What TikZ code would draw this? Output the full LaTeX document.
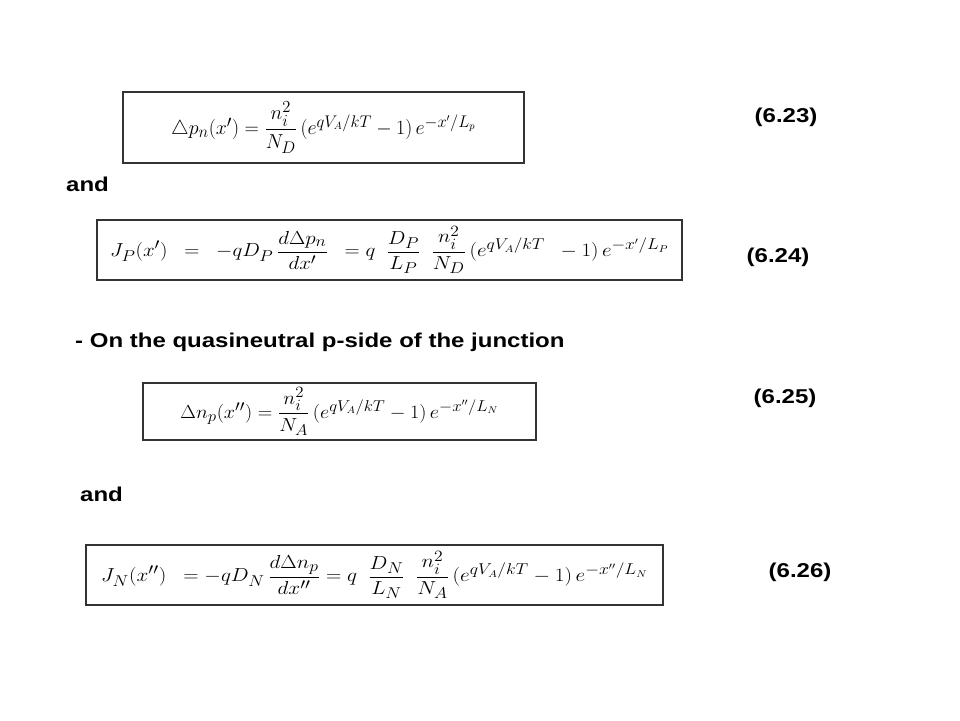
\documentclass[tikz,border=0pt]{standalone}
\usepackage{amsmath}
\usepackage{fontspec}
\setmainfont{Liberation Sans}
\usetikzlibrary{positioning}
\newcommand\widetext[1]{\scalebox{1.2}[1]{#1}}
\newcommand\eqfit[3]{\scalebox{#1}[#2]{$#3$}}
\newcommand\gap{\hspace{9pt}}
\tikzset{
  eqbox/.style={
    draw=black!80, line width=1.2pt,
    minimum width=#1, inner sep=0pt,
    font=\fontsize{19}{22}\selectfont,
  },
  eqnum/.style={
    font=\fontsize{20}{24}\selectfont\bfseries,
    inner sep=0pt,
  },
  note/.style={
    font=\fontsize{20}{24}\selectfont\bfseries,
    anchor=west, inner sep=0pt,
  },
}
\begin{document}
\begin{tikzpicture}[x=1pt, y=-1pt]
\useasboundingbox (0,0) rectangle (960,720);
\node[eqbox=401pt, minimum height=71pt] (eq-1) at (323.5,127.5)
  {\eqfit{1.15}{1.17}{\triangle p_n(x') = \dfrac{n_i^2}{N_D}\,(e^{qV_A/kT} - 1)\,e^{-x'/L_p}}};
\node[eqbox=585pt, minimum height=60pt] (eq-2) at (389.5,250)
  {\eqfit{1.215}{1.09}{J_P(x')\gap = \gap -qD_P\,\dfrac{d\Delta p_n}{dx'}\gap = q\gap\dfrac{D_P}{L_P}\gap\dfrac{n_i^2}{N_D}\,(e^{qV_A/kT}\gap - 1)\,e^{-x'/L_P}}};
\node[eqbox=393pt, minimum height=57pt] (eq-3) at (339.5,411.5)
  {\eqfit{1.17}{1.09}{\Delta n_p(x'') = \dfrac{n_i^2}{N_A}\,(e^{qV_A/kT} - 1)\,e^{-x''/L_N}}};
\node[eqbox=577pt, minimum height=60pt] (eq-4) at (374.5,575)
  {\eqfit{1.23}{1.09}{J_N(x'')\gap = -qD_N\,\dfrac{d\Delta n_p}{dx''} = q\gap\dfrac{D_N}{L_N}\gap\dfrac{n_i^2}{N_A}\,(e^{qV_A/kT} - 1)\,e^{-x''/L_N}}};

\node[eqnum] (num-1) at (786,117) {\widetext{(6.23)}};
\node[eqnum] (num-2) at (778,257) {\widetext{(6.24)}};
\node[eqnum] (num-3) at (785,398) {\widetext{(6.25)}};
\node[eqnum] (num-4) at (800,572) {\widetext{(6.26)}};

\node[note] (and-1) at (66,184) {\widetext{and}};
\node[note] (pside) at (75,342) {\widetext{- On the quasineutral p-side of the junction}};
\node[note] (and-2) at (80,494) {\widetext{and}};
\end{tikzpicture}
\end{document}
